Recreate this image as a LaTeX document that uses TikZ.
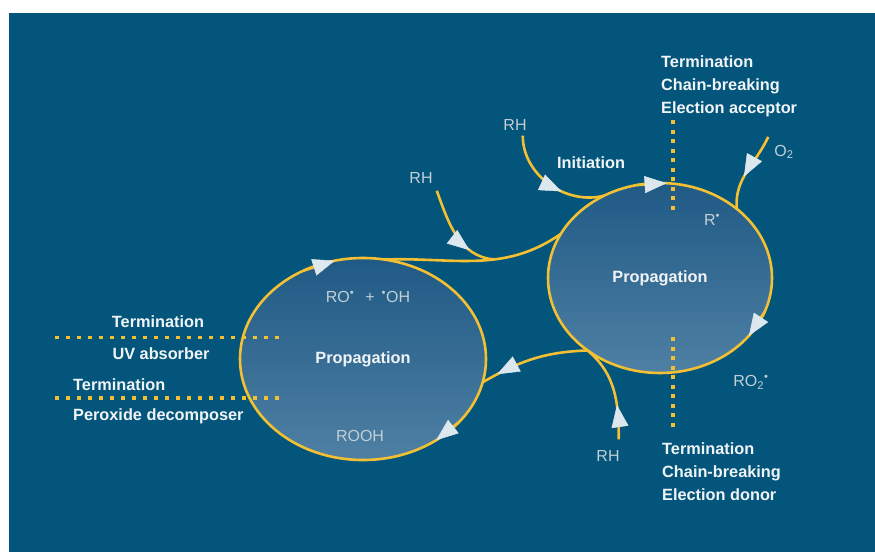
\documentclass[tikz,border=0pt]{standalone}
\usepackage{fontspec}
\setmainfont{Liberation Sans}
\usepackage{xcolor}
\usepackage{tikz}
\usetikzlibrary{arrows.meta,calc,positioning,shapes.geometric,decorations.markings}
\definecolor{panel}{HTML}{03557B}
\definecolor{amber}{HTML}{F3C033}
\definecolor{ringtop}{HTML}{1F5A85}
\definecolor{ringbot}{HTML}{4F80A4}
\definecolor{tipc}{HTML}{DDE7EE}
\definecolor{ink}{HTML}{F1F4F6}
\definecolor{soft}{HTML}{C3CED5}
\tikzset{ring/.style={ellipse,draw=amber,line width=2.6pt,top color=ringtop,bottom color=ringbot,inner sep=0pt,outer sep=0pt,font=\bfseries\fontsize{16.3}{23}\selectfont,text=ink},flow/.style={draw=amber,line width=2.6pt},flowtip/.style={flow,-{Triangle[length=22pt,width=17pt,line width=.5pt,color=tipc]}},feed/.style={flow,postaction={decorate},decoration={markings,mark=at position #1 with {\arrow{Triangle[length=22pt,width=17pt,line width=.5pt,color=tipc]}}}},stop/.style={draw=amber,line width=3.5pt,dash pattern=on 4pt off #1},stop/.default=5.5pt,tag/.style={font=\bfseries\fontsize{16.3}{23}\selectfont,text=ink,inner sep=0pt,align=left},chem/.style={font=\fontsize{16}{19}\selectfont,text=soft,inner sep=0pt}}

\begin{document}
\begin{tikzpicture}[x=1pt,y=1pt]
\useasboundingbox (0,0) rectangle (875,-552);
\fill[white] (0,0) rectangle (875,-552);
\fill[panel] (9,-13) rectangle (875,-552);
% the two cycles
\node[ring,minimum width=246pt,minimum height=202pt] (lp) at (363,-359) {Propagation};
\node[ring,minimum width=224pt,minimum height=190pt] (rp) at (660,-278) {Propagation};
% species
\node[chem] (rh1) at (515,-125) {RH};
\node[chem] (rh2) at (421,-178) {RH};
\node[chem] (rh3) at (608,-456) {RH};
\node[chem] (o2) at (784,-152) {O\textsubscript{2}};
\node[chem] (r) at (712,-220) {R\textsuperscript{•}};
\node[chem] (ro2) at (751,-382) {RO\textsubscript{2}\textsuperscript{•}};
\node[chem] (ro) at (368,-297) {RO\textsuperscript{•}\hspace{11pt}+\hspace{7pt}\textsuperscript{•}OH};
\node[chem] (rooh) at (360,-436) {ROOH};
\node[tag] (init) at (591,-163) {Initiation};
% termination notes
\node[tag,anchor=north west] (acc) at (661,-55) {Termination\\Chain-breaking\\Election acceptor};
\node[tag,anchor=north west] (don) at (662,-442) {Termination\\Chain-breaking\\Election donor};
\node[tag] (uvt) at (158,-321.5) {Termination};
\node[tag] (uv) at (161,-353.5) {UV absorber};
\node[tag,anchor=base west] (pdt) at (73,-390) {Termination};
\node[tag,anchor=base west] (pd) at (73,-420) {Peroxide decomposer};
% connectors
\draw[flow] (lp.78) to[out=2,in=215] coordinate[pos=.6] (j1) (rp.156);
\draw[feed=.85] (rp.225) to[out=182,in=30] (lp.-11);
\draw[feed=.72] ([shift={(4pt,-7pt)}]rh2.south east) to[out=-70,in=175] (j1);
\draw[feed=.62] ([shift={(-4pt,-5pt)}]rh1.south east) to[out=-90,in=195] (rp.124);
\draw[feed=.58] ([shift={(-6pt,8pt)}]o2.north west) to[out=-115,in=95] (rp.42);
\draw[feed=.35] ([shift={(-1pt,11pt)}]rh3.north east) to[out=90,in=-40] (rp.225);
% arrows on the cycles
\draw[flowtip] (rp.104) -- (rp.86);
\draw[flowtip] (rp.-18) -- (rp.-33);
\draw[flowtip] (lp.124) -- (lp.106);
\draw[flowtip] (lp.-33) -- (lp.-48);
% dotted stops
\coordinate (a1) at (673,-120); \coordinate (a2) at (673,-210);
\coordinate (d1) at (673,-337); \coordinate (d2) at (673,-430);
\coordinate (u1) at (55,-337.5); \coordinate (u2) at (280,-337.5);
\coordinate (p1) at (55,-398); \coordinate (p2) at (280,-398);
\draw[stop] (a1) -- (a2);
\draw[stop] (d1) -- (d2);
\draw[stop=7pt] (u1) -- (u2);
\draw[stop=7pt] (p1) -- (p2);
\end{tikzpicture}
\end{document}
